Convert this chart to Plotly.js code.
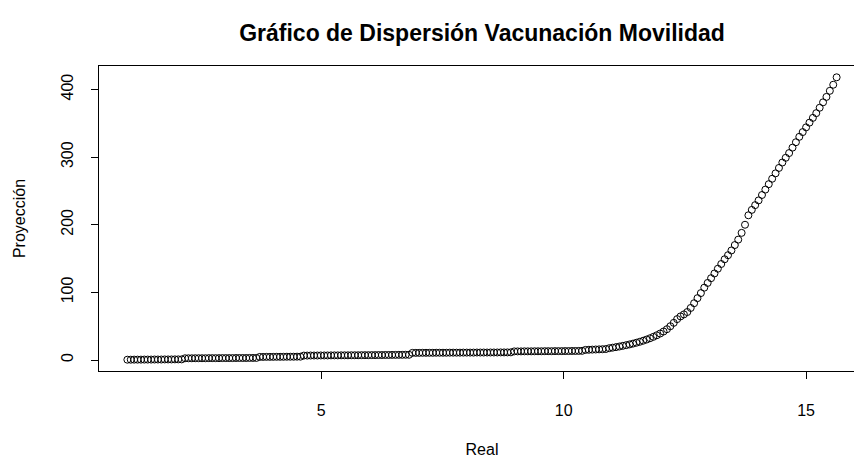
<!DOCTYPE html>
<html>
<head>
<meta charset="utf-8">
<script src="https://cdn.plot.ly/plotly-3.0.1.min.js"></script>
<style>
html,body{margin:0;padding:0;background:#fff;overflow:hidden;width:854px;height:458px;}
#chart{width:880px;height:458px;}
</style>
</head>
<body>
<div id="chart"></div>
<script>
// Real (x) values
const real = [
1.00,1.07,1.14,1.21,1.28,1.35,1.42,1.49,1.56,1.63,
1.70,1.77,1.84,1.91,1.98,2.05,2.12,2.19,2.26,2.33,
2.40,2.47,2.54,2.61,2.68,2.75,2.82,2.89,2.96,3.03,
3.10,3.17,3.24,3.31,3.38,3.45,3.52,3.59,3.66,3.73,
3.80,3.87,3.94,4.01,4.08,4.15,4.22,4.29,4.36,4.43,
4.50,4.57,4.64,4.71,4.78,4.85,4.92,4.99,5.06,5.13,
5.20,5.27,5.34,5.41,5.48,5.55,5.62,5.69,5.76,5.83,
5.90,5.97,6.04,6.11,6.18,6.25,6.32,6.39,6.46,6.53,
6.60,6.67,6.74,6.81,6.88,6.95,7.02,7.09,7.16,7.23,
7.30,7.37,7.44,7.51,7.58,7.65,7.72,7.79,7.86,7.93,
8.00,8.07,8.14,8.21,8.28,8.35,8.42,8.49,8.56,8.63,
8.70,8.77,8.84,8.91,8.98,9.05,9.12,9.19,9.26,9.33,
9.40,9.47,9.54,9.61,9.68,9.75,9.82,9.89,9.96,10.03,
10.10,10.17,10.24,10.31,10.38,10.45,10.52,10.59,10.66,10.73,
10.80,10.87,10.94,11.01,11.08,11.15,11.22,11.29,11.36,11.43,
11.50,11.57,11.64,11.71,11.78,11.85,11.92,11.99,12.06,12.13,
12.20,12.27,12.34,12.41,12.48,12.55,12.62,12.69,12.76,12.83,
12.90,12.97,13.04,13.11,13.18,13.25,13.32,13.39,13.46,13.53,
13.60,13.67,13.74,13.81,13.88,13.95,14.02,14.09,14.16,14.23,
14.30,14.37,14.44,14.51,14.58,14.65,14.72,14.79,14.86,14.93,
15.00,15.07,15.14,15.21,15.28,15.35,15.42,15.49,15.56,15.63
];
// Proyección (y) values
const proyeccion = [
0.5,0.5,0.6,0.6,0.6,0.7,0.7,0.7,0.8,0.8,0.8,0.9,0.9,0.9,1.0,1.0,1.0,
2.6,2.6,2.6,2.7,2.7,2.7,2.7,2.8,2.8,2.8,2.8,2.9,2.9,2.9,2.9,3.0,3.0,3.0,3.0,3.1,3.1,3.1,
4.6,4.6,4.7,4.7,4.7,4.8,4.8,4.8,4.9,4.9,4.9,5.0,5.0,
6.6,6.6,6.7,6.7,6.7,6.8,6.8,6.8,6.9,6.9,6.9,7.0,7.0,7.0,7.1,7.1,7.1,7.2,7.2,7.2,7.3,7.3,7.4,7.4,7.5,7.5,7.6,7.6,7.7,7.7,7.8,7.8,
10.6,10.6,10.6,10.7,10.7,10.7,10.7,10.8,10.8,10.8,10.8,10.9,10.9,10.9,10.9,11.0,11.0,11.0,11.0,11.1,11.1,11.1,11.1,11.2,11.2,11.2,11.3,11.3,11.3,11.4,
12.8,12.8,12.8,12.9,12.9,12.9,13.0,13.0,13.0,13.1,13.1,13.1,13.2,13.2,13.2,13.3,13.3,13.4,13.4,13.5,13.6,
15.0,15.2,15.4,15.6,15.8,16.0,16.3,
17.5,18.3,19.1,20.0,21.0,22.0,23.1,24.3,
25.6,27.0,28.6,30.3,32.2,34.3,36.6,39.2,42.2,45.6,
50.0,55.0,60.5,64.5,67.5,71.0,77.0,84.0,91.5,99.0,
107,114,121,128,135,142,149,155,162,170,
178,188,200,214,222,229,236,244,252,260,
268,276,284,292,299,306,314,322,330,337,
344,351,358,365,373,381,389,398,407,418
];
const xTicks = [5, 10, 15];
const yTicks = [0, 100, 200, 300, 400];
const titleText = 'Gráfico de Dispersión Vacunación Movilidad';
const xTitle = 'Real';
const yTitle = 'Proyección';

function rRange(arr) {
  const mn = Math.min(...arr), mx = Math.max(...arr), d = mx - mn;
  return [mn - 0.04 * d, mx + 0.04 * d];
}

const FONT = 'Liberation Sans, Arial, sans-serif';

const trace = {
  type: 'scatter',
  mode: 'markers',
  x: real,
  y: proyeccion,
  marker: {symbol: 'circle-open', size: 7, color: '#000', line: {width: 1, color: '#000'}},
  hoverinfo: 'none'
};

const layout = {
  width: 880,
  height: 458,
  margin: {l: 99, r: 15, t: 66, b: 87},
  paper_bgcolor: '#fff',
  plot_bgcolor: '#fff',
  showlegend: false,
  title: {
    text: titleText,
    font: {family: FONT, size: 23, color: '#000', weight: 'bold'},
    x: 0.5, xref: 'paper', xanchor: 'center',
    y: 1 - 33 / 458, yref: 'container', yanchor: 'middle'
  },
  xaxis: {
    range: rRange(real),
    tickvals: xTicks,
    ticktext: xTicks.map(String),
    ticks: 'outside', ticklen: 7, tickwidth: 1, tickcolor: '#000',
    showline: true, linecolor: '#000', linewidth: 1, mirror: true,
    showgrid: false, zeroline: false,
    tickfont: {family: FONT, size: 16, color: '#000'},
    ticklabelstandoff: 18,
    title: {text: xTitle, font: {family: FONT, size: 16, color: '#000'}, standoff: 29}
  },
  yaxis: {
    range: rRange(proyeccion),
    tickvals: yTicks,
    ticktext: yTicks.map(String),
    tickangle: -90,
    ticks: 'outside', ticklen: 7, tickwidth: 1, tickcolor: '#000',
    showline: true, linecolor: '#000', linewidth: 1, mirror: true,
    showgrid: false, zeroline: false,
    tickfont: {family: FONT, size: 16, color: '#000'},
    ticklabelstandoff: 12,
    title: {text: yTitle, font: {family: FONT, size: 16, color: '#000'}, standoff: 28}
  }
};

Plotly.newPlot('chart', [trace], layout, {staticPlot: true, displayModeBar: false});
</script>
</body>
</html>
